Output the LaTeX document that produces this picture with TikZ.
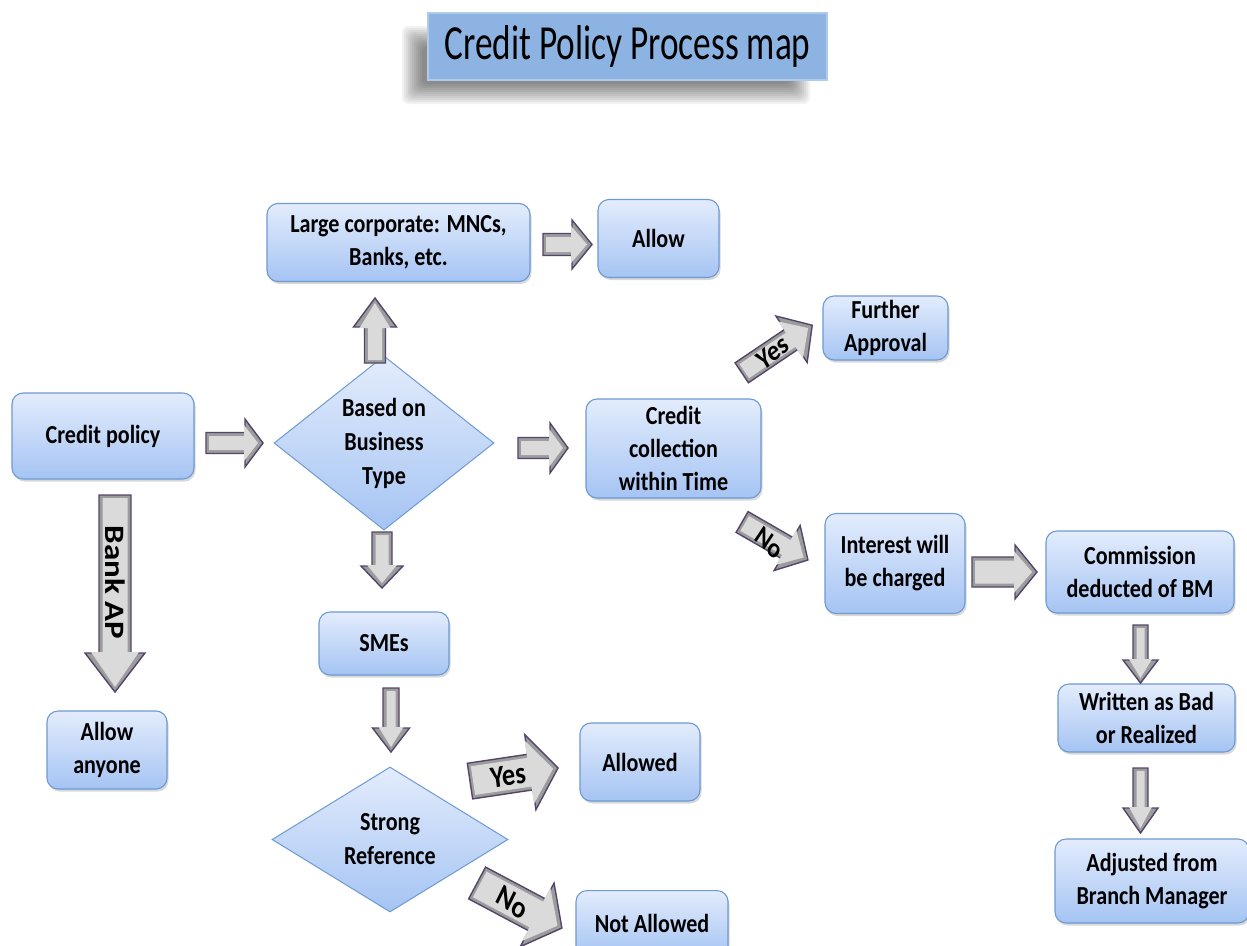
\documentclass[tikz,border=0pt]{standalone}
\usepackage{fontspec}
\setmainfont{Carlito}
\newfontfamily\boxfont{Carlito}[FakeStretch=0.85]
\newfontfamily\titlefont{Carlito}[FakeStretch=0.72]
\usetikzlibrary{shapes.geometric,shadows,calc}
\definecolor{boxtop}{HTML}{E3ECFC}
\definecolor{boxbot}{HTML}{A5C4F3}
\definecolor{boxline}{HTML}{6E9AD2}
\definecolor{arrline}{HTML}{54456A}
\definecolor{arrdark}{HTML}{9C9C9C}
\definecolor{arrlight}{HTML}{DADADA}
\definecolor{titlefill}{HTML}{8DB3E2}
\tikzset{
  procbox/.style={draw=boxline, line width=1.1pt, rounded corners=11pt,
    top color=boxtop, bottom color=boxbot, align=center, inner sep=0pt,
    font=\boxfont\bfseries\fontsize{26}{33}\selectfont,
    drop shadow={opacity=0.3, shadow xshift=1.5pt, shadow yshift=-2.5pt}},
  decbox/.style={diamond, draw=boxline, line width=1pt, top color=boxtop,
    bottom color=boxbot, align=center, inner sep=0pt,
    font=\boxfont\bfseries\fontsize{26}{34}\selectfont},
  titlebox/.style={draw=titlefill!70!white, line width=1.2pt, fill=titlefill,
    inner sep=0pt, font=\titlefont\fontsize{49}{52}\selectfont},
  arrout/.style={fill=arrdark, draw=arrline, line width=1.4pt, line join=miter},
  arrin/.style={fill=arrlight},
  arrlabel/.style={font=\bfseries\fontsize{#1}{#1}\selectfont, inner sep=0pt, xscale=0.85},
}
% #1 name, #2 centre, #3 angle, #4 length, #5 shaft half, #6 head half, #7 head length
\newcommand\barr[7]{%
  \begin{scope}[shift={#2}, rotate=#3]
    \coordinate (#1) at (0,0);
    \path[arrout] ({-#4/2},{-#5}) -- ({#4/2-#7},{-#5}) -- ({#4/2-#7},{-#6})
      -- ({#4/2},0) -- ({#4/2-#7},{#6}) -- ({#4/2-#7},{#5}) -- ({-#4/2},{#5}) -- cycle;
    \path[arrin] ({-#4/2+3},{-#5+3.5}) -- ({#4/2-#7-1},{-#5+3.5}) -- ({#4/2-#7-1},{-#6+6})
      -- ({#4/2-5},0) -- ({#4/2-#7-1},{#6-6}) -- ({#4/2-#7-1},{#5-3.5}) -- ({-#4/2+3},{#5-3.5}) -- cycle;
  \end{scope}}
\begin{document}
\begin{tikzpicture}[x=1pt,y=-1pt]
\useasboundingbox[fill=white] (0,0) rectangle (1247,945);

% title with soft shadow
\foreach \d in {-8,-6,...,12}
  \fill[black, opacity=0.05, rounded corners=6pt] ({414-\d},{38-\d}) rectangle ({798+\d},{92+\d});
\node[titlebox, minimum width=399pt, minimum height=67pt] (title) at (627.5,46.5) {Credit Policy Process map};

% boxes
\node[procbox, minimum width=182pt, minimum height=86pt] (cp) at (103,436) {Credit policy};
\node[procbox, minimum width=120pt, minimum height=78pt] (anyone) at (107,750) {Allow\\anyone};
\node[decbox, minimum width=220pt, minimum height=147pt] (bt) at (384,443) {Based on\\Business\\Type};
\node[procbox, minimum width=263pt, minimum height=78pt] (lc) at (398.5,242.5) {Large corporate: MNCs,\\Banks, etc.};
\node[procbox, minimum width=121pt, minimum height=78pt] (allow) at (658.5,238.5) {Allow};
\node[procbox, minimum width=175pt, minimum height=99pt] (cc) at (673.5,448.5) {Credit\\collection\\within Time};
\node[procbox, minimum width=125pt, minimum height=64pt] (fa) at (885.5,328) {Further\\Approval};
\node[procbox, minimum width=140pt, minimum height=100pt] (int) at (895,563.5) {Interest will\\be charged};
\node[procbox, minimum width=188pt, minimum height=82pt] (com) at (1140,572) {Commission\\deducted of BM};
\node[procbox, minimum width=177pt, minimum height=68pt] (wr) at (1146.5,718) {Written as Bad\\or Realized};
\node[procbox, minimum width=194pt, minimum height=84pt] (adj) at (1152,881) {Adjusted from\\Branch Manager};
\node[procbox, minimum width=130pt, minimum height=63pt] (sme) at (384,643.5) {SMEs};
\node[decbox, minimum width=236pt, minimum height=145pt] (sr) at (390,839.5) {Strong\\Reference};
\node[procbox, minimum width=120pt, minimum height=78pt] (allowed) at (640,762) {Allowed};
\node[procbox, minimum width=152pt, minimum height=66pt, anchor=north] (notallowed) at (652,890) {\raisebox{-5pt}{Not Allowed}};

% block arrows between the nodes
\barr{a1}{(234.5,443)}{0}{57}{10.5}{24}{18}
\barr{a2}{(375,330.5)}{90}{65}{10.5}{21.5}{29}
\barr{a3}{(567.5,244.5)}{0}{49}{11}{24.5}{20}
\barr{a4}{(543,448)}{0}{50}{10.5}{25}{18}
\barr{a5}{(382,560)}{-90}{56}{10}{21}{22}
\barr{a6}{(391,720)}{-90}{64}{8}{18.5}{24}
\barr{bankap}{(115,593.5)}{-90}{197}{16}{30}{39}
\barr{yes1}{(514,774.5)}{8.5}{89}{18}{38}{28}
\barr{no1}{(519.5,905.5)}{-28}{96}{18}{36}{28}
\barr{yes2}{(777,349)}{34}{85}{12}{28}{25}
\barr{no2}{(775,541)}{-30}{76}{12}{26}{24}
\barr{a12}{(1004.5,572)}{0}{65}{15}{27}{22}
\barr{a13}{(1140.5,654)}{-90}{58}{7.5}{17.5}{23}
\barr{a14}{(1140.5,800.5)}{-90}{65}{7.5}{17.5}{25}

% arrow labels
\node[arrlabel=33, rotate=-90] (lbank) at ($(bankap)+(0,-11)$) {Bank AP};
\node[arrlabel=31, rotate=8.5] (lyes1) at ($(yes1)+(-6,1)$) {Yes};
\node[arrlabel=31, rotate=-30] (lno1) at ($(no1)+(-7,-3)$) {No};
\node[arrlabel=29, rotate=34] (lyes2) at ($(yes2)+(-4.5,3.5)$) {Yes};
\node[arrlabel=28, rotate=-38] (lno2) at ($(no2)+(-6,2)$) {No};
\end{tikzpicture}
\end{document}
